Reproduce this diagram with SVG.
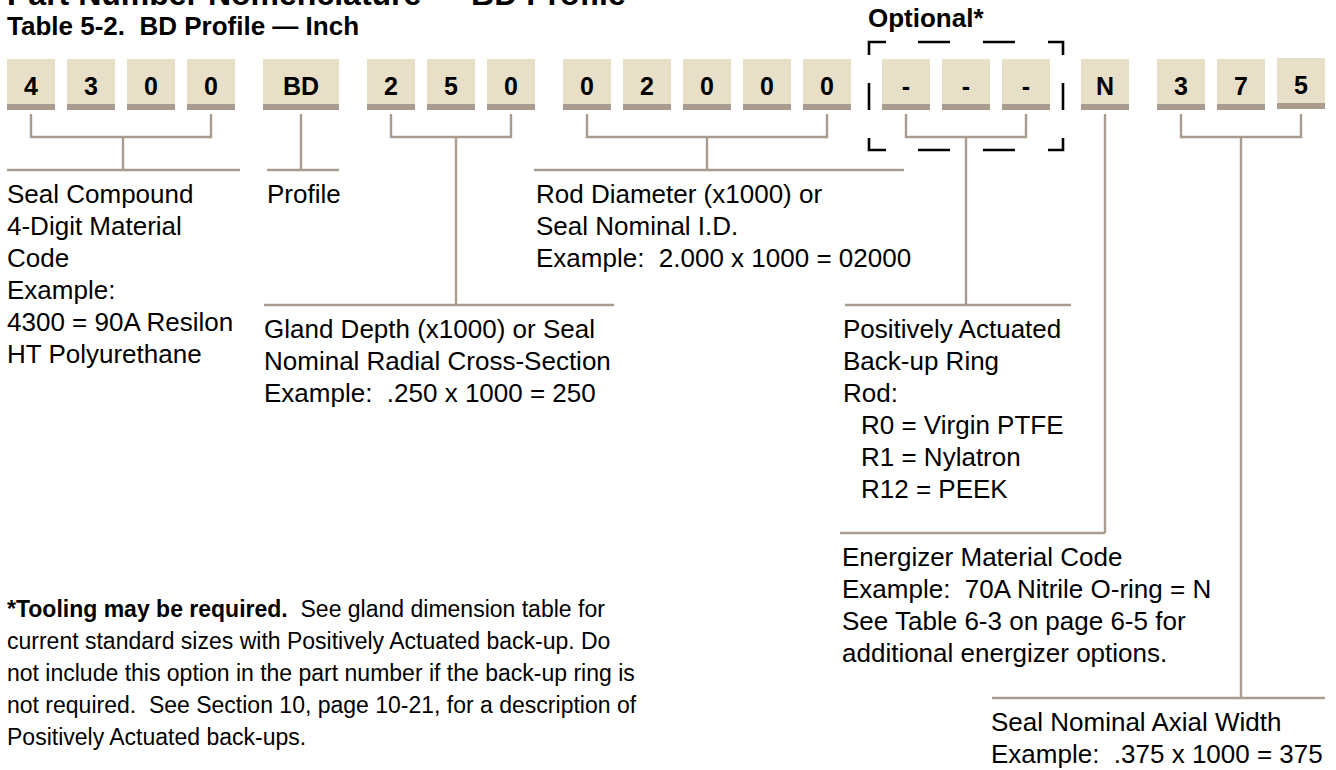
<svg xmlns="http://www.w3.org/2000/svg" width="1336" height="770" viewBox="0 0 1336 770">
<style>
  text { font-family: "Liberation Sans", Arial, Helvetica, sans-serif; fill: #000; white-space: pre; }
  .h1 { font-size: 32px; font-weight: bold; }
  .h2 { font-size: 26px; font-weight: bold; }
  .dig { font-size: 25px; font-weight: bold; text-anchor: middle; }
  .lbl { font-size: 26px; }
  .fn { font-size: 23px; }
  .b { font-weight: bold; }
  .face { fill: #e7dfc7; }
  .band { fill: #a99b8e; }
  .conn { fill: none; stroke: #a99b8e; stroke-width: 2.4; }
  .dash { fill: none; stroke: #000; stroke-width: 2.6; }
</style>
<defs>
  <g id="box48">
    <rect class="face" x="0" y="0" width="48" height="45"/>
    <rect class="band" x="0" y="45" width="48" height="6"/>
  </g>
</defs>

<text class="h1" x="7" y="5">Part Number Nomenclature — BD Profile</text>
<text class="h2" x="7" y="35">Table 5-2.  BD Profile — Inch</text>
<text class="h2" x="868" y="27">Optional*</text>

<g id="optional-frame">
  <path class="dash" d="M869,55 V42 H886 M918,42 H950 M983,42 H1015 M1048,42 H1063 V55 M1063,83 V110 M1063,138 V150 H1048 M1015,150 H983 M950,150 H918 M886,150 H869 V138 M869,83 V110"/>
</g>

<g id="box-4"><use href="#box48" x="7" y="59"/><text class="dig" x="31" y="95">4</text></g>
<g id="box-3a"><use href="#box48" x="67" y="59"/><text class="dig" x="91" y="95">3</text></g>
<g id="box-0a"><use href="#box48" x="127" y="59"/><text class="dig" x="151" y="95">0</text></g>
<g id="box-0b"><use href="#box48" x="187" y="59"/><text class="dig" x="211" y="95">0</text></g>
<g id="box-BD">
  <rect class="face" x="263" y="59" width="76" height="45"/>
  <rect class="band" x="263" y="104" width="76" height="6"/>
  <text class="dig" x="301" y="95">BD</text>
</g>
<g id="box-2a"><use href="#box48" x="367" y="59"/><text class="dig" x="391" y="95">2</text></g>
<g id="box-5a"><use href="#box48" x="427" y="59"/><text class="dig" x="451" y="95">5</text></g>
<g id="box-0c"><use href="#box48" x="487" y="59"/><text class="dig" x="511" y="95">0</text></g>
<g id="box-0d"><use href="#box48" x="563" y="59"/><text class="dig" x="587" y="95">0</text></g>
<g id="box-2b"><use href="#box48" x="623" y="59"/><text class="dig" x="647" y="95">2</text></g>
<g id="box-0e"><use href="#box48" x="683" y="59"/><text class="dig" x="707" y="95">0</text></g>
<g id="box-0f"><use href="#box48" x="743" y="59"/><text class="dig" x="767" y="95">0</text></g>
<g id="box-0g"><use href="#box48" x="803" y="59"/><text class="dig" x="827" y="95">0</text></g>
<g id="box-opt1"><use href="#box48" x="882" y="59"/><text class="dig" x="906" y="95">-</text></g>
<g id="box-opt2"><use href="#box48" x="942" y="59"/><text class="dig" x="966" y="95">-</text></g>
<g id="box-opt3"><use href="#box48" x="1002" y="59"/><text class="dig" x="1026" y="95">-</text></g>
<g id="box-N"><use href="#box48" x="1081" y="59"/><text class="dig" x="1105" y="95">N</text></g>
<g id="box-3b"><use href="#box48" x="1157" y="59"/><text class="dig" x="1181" y="95">3</text></g>
<g id="box-7"><use href="#box48" x="1217" y="59"/><text class="dig" x="1241" y="95">7</text></g>
<g id="box-5b"><use href="#box48" x="1277" y="58"/><text class="dig" x="1301" y="94">5</text></g>

<g id="connectors">
  <path class="conn" d="M31,114 V137 H211 V114 M123,137 V170 M7,170 H240"/>
  <path class="conn" d="M301,114 V170 M267,170 H339"/>
  <path class="conn" d="M391,114 V137 H511 V114 M456,137 V305 M264,305 H614"/>
  <path class="conn" d="M587,114 V137 H827 V114 M707,137 V170 M534,170 H904"/>
  <path class="conn" d="M906,114 V137 H1026 V114 M966,137 V305 M845,305 H1071"/>
  <path class="conn" d="M1105,114 V533 M840,533 H1105"/>
  <path class="conn" d="M1181,114 V137 H1301 V114 M1241,137 V698 M992,698 H1325"/>
</g>

<g id="label-seal-compound">
  <text class="lbl" x="7" y="203">Seal Compound</text>
  <text class="lbl" x="7" y="235">4-Digit Material</text>
  <text class="lbl" x="7" y="267">Code</text>
  <text class="lbl" x="7" y="299">Example:</text>
  <text class="lbl" x="7" y="331">4300 = 90A Resilon</text>
  <text class="lbl" x="7" y="363">HT Polyurethane</text>
</g>
<g id="label-profile">
  <text class="lbl" x="267" y="203">Profile</text>
</g>
<g id="label-gland">
  <text class="lbl" x="264" y="338">Gland Depth (x1000) or Seal</text>
  <text class="lbl" x="264" y="370">Nominal Radial Cross-Section</text>
  <text class="lbl" x="264" y="402">Example:  .250 x 1000 = 250</text>
</g>
<g id="label-rod">
  <text class="lbl" x="536" y="203">Rod Diameter (x1000) or</text>
  <text class="lbl" x="536" y="235">Seal Nominal I.D.</text>
  <text class="lbl" x="536" y="267">Example:  2.000 x 1000 = 02000</text>
</g>
<g id="label-backup">
  <text class="lbl" x="843" y="338">Positively Actuated</text>
  <text class="lbl" x="843" y="370">Back-up Ring</text>
  <text class="lbl" x="843" y="402">Rod:</text>
  <text class="lbl" x="861" y="434">R0 = Virgin PTFE</text>
  <text class="lbl" x="861" y="466">R1 = Nylatron</text>
  <text class="lbl" x="861" y="498">R12 = PEEK</text>
</g>
<g id="label-energizer">
  <text class="lbl" x="842" y="566">Energizer Material Code</text>
  <text class="lbl" x="842" y="598">Example:  70A Nitrile O-ring = N</text>
  <text class="lbl" x="842" y="630">See Table 6-3 on page 6-5 for</text>
  <text class="lbl" x="842" y="662">additional energizer options.</text>
</g>
<g id="label-axial">
  <text class="lbl" x="991" y="731">Seal Nominal Axial Width</text>
  <text class="lbl" x="991" y="763">Example:  .375 x 1000 = 375</text>
</g>
<g id="footnote">
  <text class="fn" x="7" y="617"><tspan class="b">*Tooling may be required.</tspan>  See gland dimension table for</text>
  <text class="fn" x="7" y="649">current standard sizes with Positively Actuated back-up. Do</text>
  <text class="fn" x="7" y="681">not include this option in the part number if the back-up ring is</text>
  <text class="fn" x="7" y="713">not required.  See Section 10, page 10-21, for a description of</text>
  <text class="fn" x="7" y="745">Positively Actuated back-ups.</text>
</g>
</svg>
